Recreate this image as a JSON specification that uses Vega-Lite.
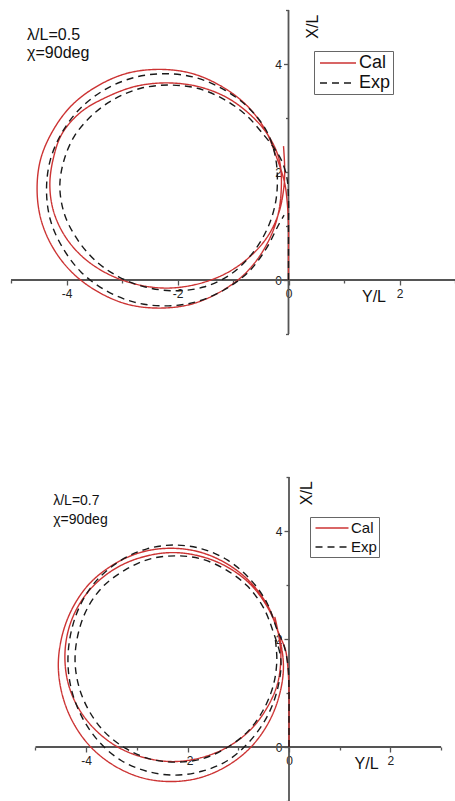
{
  "$schema": "https://vega.github.io/schema/vega-lite/v6.json",
  "background": "white",
  "padding": {"left": 10, "top": 9, "right": 0, "bottom": 0},
  "spacing": 141,
  "config": {
    "view": {"stroke": null},
    "font": "Liberation Sans",
    "legend": {"title": null, "symbolStrokeWidth": 1.5, "strokeColor": "#666", "fillColor": "white", "padding": 2, "labelColor": "#111", "labelFont": "Liberation Sans"}
  },
  "datasets": {
    "frame": [
      {"p": "A", "a": "x", "o": 1, "h": -5, "v": 0}, {"p": "A", "a": "x", "o": 2, "h": 3, "v": 0},
      {"p": "A", "a": "y", "o": 1, "h": 0, "v": -1}, {"p": "A", "a": "y", "o": 2, "h": 0, "v": 5},
      {"p": "B", "a": "x", "o": 1, "h": -5, "v": 0}, {"p": "B", "a": "x", "o": 2, "h": 3, "v": 0},
      {"p": "B", "a": "y", "o": 1, "h": 0, "v": -1}, {"p": "B", "a": "y", "o": 2, "h": 0, "v": 5}
    ],
    "notes": [
      {"p": "A", "k": "note", "h": -4.71, "v": 4.54, "t": "λ/L=0.5"},
      {"p": "A", "k": "note", "h": -4.71, "v": 4.2, "t": "χ=90deg"},
      {"p": "A", "k": "xt", "h": 1.54, "v": -0.31, "t": "Y/L"},
      {"p": "A", "k": "yt", "h": 0.45, "v": 4.69, "t": "X/L"},
      {"p": "B", "k": "note", "h": -4.65, "v": 4.56, "t": "λ/L=0.7"},
      {"p": "B", "k": "note", "h": -4.65, "v": 4.2, "t": "χ=90deg"},
      {"p": "B", "k": "xt", "h": 1.53, "v": -0.31, "t": "Y/L"},
      {"p": "B", "k": "yt", "h": 0.36, "v": 4.7, "t": "X/L"}
    ],
    "traj": [
      {"p":"A","s":"Cal","o":1,"h":0,"v":0},{"p":"A","s":"Cal","o":2,"h":0,"v":0.5},{"p":"A","s":"Cal","o":3,"h":0,"v":1.0},{"p":"A","s":"Cal","o":4,"h":-0.02,"v":1.4},
      {"p":"A","s":"Cal","o":5,"h":-0.07,"v":1.8},{"p":"A","s":"Cal","o":6,"h":-0.21,"v":2.26},{"p":"A","s":"Cal","o":7,"h":-0.43,"v":2.8},{"p":"A","s":"Cal","o":8,"h":-0.77,"v":3.25},
      {"p":"A","s":"Cal","o":9,"h":-1.23,"v":3.6},{"p":"A","s":"Cal","o":10,"h":-1.76,"v":3.83},{"p":"A","s":"Cal","o":11,"h":-2.33,"v":3.9},{"p":"A","s":"Cal","o":12,"h":-2.9,"v":3.83},
      {"p":"A","s":"Cal","o":13,"h":-3.43,"v":3.6},{"p":"A","s":"Cal","o":14,"h":-3.89,"v":3.25},{"p":"A","s":"Cal","o":15,"h":-4.22,"v":2.81},{"p":"A","s":"Cal","o":16,"h":-4.46,"v":2.26},
      {"p":"A","s":"Cal","o":17,"h":-4.53,"v":1.69},{"p":"A","s":"Cal","o":18,"h":-4.46,"v":1.12},{"p":"A","s":"Cal","o":19,"h":-4.24,"v":0.59},{"p":"A","s":"Cal","o":20,"h":-3.89,"v":0.13},
      {"p":"A","s":"Cal","o":21,"h":-3.43,"v":-0.22},{"p":"A","s":"Cal","o":22,"h":-2.9,"v":-0.45},{"p":"A","s":"Cal","o":23,"h":-2.33,"v":-0.52},{"p":"A","s":"Cal","o":24,"h":-1.76,"v":-0.45},
      {"p":"A","s":"Cal","o":25,"h":-1.23,"v":-0.22},{"p":"A","s":"Cal","o":26,"h":-0.77,"v":0.13},{"p":"A","s":"Cal","o":27,"h":-0.43,"v":0.59},{"p":"A","s":"Cal","o":28,"h":-0.21,"v":1.12},
      {"p":"A","s":"Cal","o":29,"h":-0.13,"v":1.69},{"p":"A","s":"Cal","o":30,"h":-0.17,"v":2.24},{"p":"A","s":"Cal","o":31,"h":-0.38,"v":2.7},{"p":"A","s":"Cal","o":32,"h":-0.72,"v":3.09},
      {"p":"A","s":"Cal","o":33,"h":-1.15,"v":3.4},{"p":"A","s":"Cal","o":34,"h":-1.66,"v":3.59},{"p":"A","s":"Cal","o":35,"h":-2.2,"v":3.65},{"p":"A","s":"Cal","o":36,"h":-2.74,"v":3.59},
      {"p":"A","s":"Cal","o":37,"h":-3.25,"v":3.4},{"p":"A","s":"Cal","o":38,"h":-3.74,"v":3.11},{"p":"A","s":"Cal","o":39,"h":-4.08,"v":2.71},{"p":"A","s":"Cal","o":40,"h":-4.24,"v":2.24},
      {"p":"A","s":"Cal","o":41,"h":-4.3,"v":1.75},{"p":"A","s":"Cal","o":42,"h":-4.23,"v":1.26},{"p":"A","s":"Cal","o":43,"h":-4.02,"v":0.8},{"p":"A","s":"Cal","o":44,"h":-3.69,"v":0.41},
      {"p":"A","s":"Cal","o":45,"h":-3.25,"v":0.11},{"p":"A","s":"Cal","o":46,"h":-2.74,"v":-0.08},{"p":"A","s":"Cal","o":47,"h":-2.2,"v":-0.15},{"p":"A","s":"Cal","o":48,"h":-1.66,"v":-0.08},
      {"p":"A","s":"Cal","o":49,"h":-1.15,"v":0.11},{"p":"A","s":"Cal","o":50,"h":-0.72,"v":0.41},{"p":"A","s":"Cal","o":51,"h":-0.38,"v":0.8},{"p":"A","s":"Cal","o":52,"h":-0.17,"v":1.26},
      {"p":"A","s":"Cal","o":53,"h":-0.08,"v":1.75},{"p":"A","s":"Cal","o":54,"h":-0.07,"v":2.1},{"p":"A","s":"Cal","o":55,"h":-0.09,"v":2.48},

      {"p":"A","s":"Exp","o":1,"h":0,"v":0},{"p":"A","s":"Exp","o":2,"h":0,"v":0.5},{"p":"A","s":"Exp","o":3,"h":0,"v":1.0},{"p":"A","s":"Exp","o":4,"h":0,"v":1.5},
      {"p":"A","s":"Exp","o":5,"h":-0.03,"v":1.9},{"p":"A","s":"Exp","o":6,"h":-0.12,"v":2.2},{"p":"A","s":"Exp","o":7,"h":-0.25,"v":2.43},{"p":"A","s":"Exp","o":8,"h":-0.44,"v":2.68},
      {"p":"A","s":"Exp","o":9,"h":-0.76,"v":3.05},{"p":"A","s":"Exp","o":10,"h":-1.17,"v":3.35},{"p":"A","s":"Exp","o":11,"h":-1.64,"v":3.55},{"p":"A","s":"Exp","o":12,"h":-2.15,"v":3.61},
      {"p":"A","s":"Exp","o":13,"h":-2.66,"v":3.55},{"p":"A","s":"Exp","o":14,"h":-3.14,"v":3.35},{"p":"A","s":"Exp","o":15,"h":-3.54,"v":3.05},{"p":"A","s":"Exp","o":16,"h":-3.86,"v":2.66},
      {"p":"A","s":"Exp","o":17,"h":-4.05,"v":2.2},{"p":"A","s":"Exp","o":18,"h":-4.12,"v":1.72},{"p":"A","s":"Exp","o":19,"h":-4.03,"v":1.2},{"p":"A","s":"Exp","o":20,"h":-3.79,"v":0.73},
      {"p":"A","s":"Exp","o":21,"h":-3.46,"v":0.34},{"p":"A","s":"Exp","o":22,"h":-3.06,"v":0.06},{"p":"A","s":"Exp","o":23,"h":-2.58,"v":-0.13},{"p":"A","s":"Exp","o":24,"h":-2.05,"v":-0.2},
      {"p":"A","s":"Exp","o":25,"h":-1.53,"v":-0.13},{"p":"A","s":"Exp","o":26,"h":-1.05,"v":0.1},{"p":"A","s":"Exp","o":27,"h":-0.67,"v":0.47},{"p":"A","s":"Exp","o":28,"h":-0.39,"v":0.93},
      {"p":"A","s":"Exp","o":29,"h":-0.24,"v":1.4},{"p":"A","s":"Exp","o":30,"h":-0.2,"v":1.83},{"p":"A","s":"Exp","o":31,"h":-0.24,"v":2.3},{"p":"A","s":"Exp","o":32,"h":-0.39,"v":2.75},
      {"p":"A","s":"Exp","o":33,"h":-0.72,"v":3.19},{"p":"A","s":"Exp","o":34,"h":-1.17,"v":3.53},{"p":"A","s":"Exp","o":35,"h":-1.68,"v":3.75},{"p":"A","s":"Exp","o":36,"h":-2.23,"v":3.82},
      {"p":"A","s":"Exp","o":37,"h":-2.78,"v":3.75},{"p":"A","s":"Exp","o":38,"h":-3.3,"v":3.53},{"p":"A","s":"Exp","o":39,"h":-3.74,"v":3.19},{"p":"A","s":"Exp","o":40,"h":-4.07,"v":2.75},
      {"p":"A","s":"Exp","o":41,"h":-4.29,"v":2.23},{"p":"A","s":"Exp","o":42,"h":-4.36,"v":1.67},{"p":"A","s":"Exp","o":43,"h":-4.29,"v":1.11},{"p":"A","s":"Exp","o":44,"h":-4.07,"v":0.6},
      {"p":"A","s":"Exp","o":45,"h":-3.74,"v":0.15},{"p":"A","s":"Exp","o":46,"h":-3.3,"v":-0.19},{"p":"A","s":"Exp","o":47,"h":-2.78,"v":-0.41},{"p":"A","s":"Exp","o":48,"h":-2.23,"v":-0.48},
      {"p":"A","s":"Exp","o":49,"h":-1.68,"v":-0.41},{"p":"A","s":"Exp","o":50,"h":-1.17,"v":-0.19},{"p":"A","s":"Exp","o":51,"h":-0.72,"v":0.15},{"p":"A","s":"Exp","o":52,"h":-0.39,"v":0.6},
      {"p":"A","s":"Exp","o":53,"h":-0.19,"v":1.0},{"p":"A","s":"Exp","o":54,"h":-0.08,"v":1.2},

      {"p":"B","s":"Cal","o":1,"h":0,"v":0},{"p":"B","s":"Cal","o":2,"h":0,"v":0.5},{"p":"B","s":"Cal","o":3,"h":0,"v":1.0},{"p":"B","s":"Cal","o":4,"h":-0.02,"v":1.45},
      {"p":"B","s":"Cal","o":5,"h":-0.07,"v":1.8},{"p":"B","s":"Cal","o":6,"h":-0.19,"v":2.08},{"p":"B","s":"Cal","o":7,"h":-0.41,"v":2.6},{"p":"B","s":"Cal","o":8,"h":-0.76,"v":3.05},
      {"p":"B","s":"Cal","o":9,"h":-1.22,"v":3.39},{"p":"B","s":"Cal","o":10,"h":-1.76,"v":3.61},{"p":"B","s":"Cal","o":11,"h":-2.33,"v":3.68},{"p":"B","s":"Cal","o":12,"h":-2.9,"v":3.61},
      {"p":"B","s":"Cal","o":13,"h":-3.44,"v":3.39},{"p":"B","s":"Cal","o":14,"h":-3.92,"v":3.04},{"p":"B","s":"Cal","o":15,"h":-4.26,"v":2.59},{"p":"B","s":"Cal","o":16,"h":-4.47,"v":2.08},
      {"p":"B","s":"Cal","o":17,"h":-4.55,"v":1.52},{"p":"B","s":"Cal","o":18,"h":-4.47,"v":0.96},{"p":"B","s":"Cal","o":19,"h":-4.25,"v":0.44},{"p":"B","s":"Cal","o":20,"h":-3.9,"v":-0.01},
      {"p":"B","s":"Cal","o":21,"h":-3.44,"v":-0.35},{"p":"B","s":"Cal","o":22,"h":-2.9,"v":-0.57},{"p":"B","s":"Cal","o":23,"h":-2.33,"v":-0.64},{"p":"B","s":"Cal","o":24,"h":-1.76,"v":-0.57},
      {"p":"B","s":"Cal","o":25,"h":-1.22,"v":-0.35},{"p":"B","s":"Cal","o":26,"h":-0.76,"v":-0.01},{"p":"B","s":"Cal","o":27,"h":-0.41,"v":0.44},{"p":"B","s":"Cal","o":28,"h":-0.19,"v":0.96},
      {"p":"B","s":"Cal","o":29,"h":-0.11,"v":1.52},{"p":"B","s":"Cal","o":30,"h":-0.23,"v":2.17},{"p":"B","s":"Cal","o":31,"h":-0.45,"v":2.63},{"p":"B","s":"Cal","o":32,"h":-0.78,"v":3.03},
      {"p":"B","s":"Cal","o":33,"h":-1.23,"v":3.34},{"p":"B","s":"Cal","o":34,"h":-1.74,"v":3.53},{"p":"B","s":"Cal","o":35,"h":-2.29,"v":3.6},{"p":"B","s":"Cal","o":36,"h":-2.84,"v":3.53},
      {"p":"B","s":"Cal","o":37,"h":-3.36,"v":3.34},{"p":"B","s":"Cal","o":38,"h":-3.82,"v":3.02},{"p":"B","s":"Cal","o":39,"h":-4.15,"v":2.62},{"p":"B","s":"Cal","o":40,"h":-4.35,"v":2.17},
      {"p":"B","s":"Cal","o":41,"h":-4.42,"v":1.67},{"p":"B","s":"Cal","o":42,"h":-4.35,"v":1.16},{"p":"B","s":"Cal","o":43,"h":-4.14,"v":0.7},{"p":"B","s":"Cal","o":44,"h":-3.8,"v":0.3},
      {"p":"B","s":"Cal","o":45,"h":-3.36,"v":-0.01},{"p":"B","s":"Cal","o":46,"h":-2.84,"v":-0.2},{"p":"B","s":"Cal","o":47,"h":-2.29,"v":-0.27},{"p":"B","s":"Cal","o":48,"h":-1.74,"v":-0.2},
      {"p":"B","s":"Cal","o":49,"h":-1.23,"v":-0.01},{"p":"B","s":"Cal","o":50,"h":-0.78,"v":0.3},{"p":"B","s":"Cal","o":51,"h":-0.45,"v":0.7},{"p":"B","s":"Cal","o":52,"h":-0.23,"v":1.16},
      {"p":"B","s":"Cal","o":53,"h":-0.16,"v":1.67},{"p":"B","s":"Cal","o":54,"h":-0.2,"v":2.05},{"p":"B","s":"Cal","o":55,"h":-0.28,"v":2.41},

      {"p":"B","s":"Exp","o":1,"h":0,"v":0},{"p":"B","s":"Exp","o":2,"h":0,"v":0.5},{"p":"B","s":"Exp","o":3,"h":0,"v":1.0},{"p":"B","s":"Exp","o":4,"h":-0.02,"v":1.5},
      {"p":"B","s":"Exp","o":5,"h":-0.1,"v":1.88},{"p":"B","s":"Exp","o":6,"h":-0.23,"v":2.16},{"p":"B","s":"Exp","o":7,"h":-0.44,"v":2.68},{"p":"B","s":"Exp","o":8,"h":-0.78,"v":3.12},
      {"p":"B","s":"Exp","o":9,"h":-1.21,"v":3.46},{"p":"B","s":"Exp","o":10,"h":-1.72,"v":3.67},{"p":"B","s":"Exp","o":11,"h":-2.26,"v":3.74},{"p":"B","s":"Exp","o":12,"h":-2.8,"v":3.67},
      {"p":"B","s":"Exp","o":13,"h":-3.31,"v":3.46},{"p":"B","s":"Exp","o":14,"h":-3.78,"v":3.1},{"p":"B","s":"Exp","o":15,"h":-4.1,"v":2.66},{"p":"B","s":"Exp","o":16,"h":-4.29,"v":2.16},
      {"p":"B","s":"Exp","o":17,"h":-4.36,"v":1.61},{"p":"B","s":"Exp","o":18,"h":-4.29,"v":1.06},{"p":"B","s":"Exp","o":19,"h":-4.08,"v":0.55},{"p":"B","s":"Exp","o":20,"h":-3.75,"v":0.1},
      {"p":"B","s":"Exp","o":21,"h":-3.31,"v":-0.25},{"p":"B","s":"Exp","o":22,"h":-2.8,"v":-0.45},{"p":"B","s":"Exp","o":23,"h":-2.26,"v":-0.52},{"p":"B","s":"Exp","o":24,"h":-1.72,"v":-0.45},
      {"p":"B","s":"Exp","o":25,"h":-1.21,"v":-0.25},{"p":"B","s":"Exp","o":26,"h":-0.78,"v":0.1},{"p":"B","s":"Exp","o":27,"h":-0.44,"v":0.55},{"p":"B","s":"Exp","o":28,"h":-0.23,"v":1.06},
      {"p":"B","s":"Exp","o":29,"h":-0.16,"v":1.61},{"p":"B","s":"Exp","o":30,"h":-0.31,"v":2.13},{"p":"B","s":"Exp","o":31,"h":-0.51,"v":2.59},{"p":"B","s":"Exp","o":32,"h":-0.82,"v":2.98},
      {"p":"B","s":"Exp","o":33,"h":-1.24,"v":3.28},{"p":"B","s":"Exp","o":34,"h":-1.72,"v":3.48},{"p":"B","s":"Exp","o":35,"h":-2.23,"v":3.54},{"p":"B","s":"Exp","o":36,"h":-2.75,"v":3.48},
      {"p":"B","s":"Exp","o":37,"h":-3.23,"v":3.28},{"p":"B","s":"Exp","o":38,"h":-3.66,"v":2.98},{"p":"B","s":"Exp","o":39,"h":-3.97,"v":2.58},{"p":"B","s":"Exp","o":40,"h":-4.15,"v":2.13},
      {"p":"B","s":"Exp","o":41,"h":-4.22,"v":1.63},{"p":"B","s":"Exp","o":42,"h":-4.15,"v":1.14},{"p":"B","s":"Exp","o":43,"h":-3.95,"v":0.68},{"p":"B","s":"Exp","o":44,"h":-3.64,"v":0.28},
      {"p":"B","s":"Exp","o":45,"h":-3.23,"v":-0.02},{"p":"B","s":"Exp","o":46,"h":-2.75,"v":-0.22},{"p":"B","s":"Exp","o":47,"h":-2.23,"v":-0.28},{"p":"B","s":"Exp","o":48,"h":-1.72,"v":-0.22},
      {"p":"B","s":"Exp","o":49,"h":-1.24,"v":-0.02},{"p":"B","s":"Exp","o":50,"h":-0.82,"v":0.28},{"p":"B","s":"Exp","o":51,"h":-0.51,"v":0.68},{"p":"B","s":"Exp","o":52,"h":-0.31,"v":1.14},
      {"p":"B","s":"Exp","o":53,"h":-0.24,"v":1.6},{"p":"B","s":"Exp","o":54,"h":-0.27,"v":2.0}
    ]
  },
  "vconcat": [
    {
      "width": 444,
      "height": 324,
      "encoding": {
        "x": {"field": "h", "type": "quantitative", "scale": {"domain": [-5, 3], "nice": false, "zero": false},
          "axis": {"title": null, "values": [-5, -4, -3, -2, -1, 0, 1, 2, 3], "labelExpr": "datum.value % 2 === 0 ? '' + datum.value : ''",
            "labelFontSize": {"condition": {"test": "datum.value % 2 !== 0", "value": 0}, "value": 12},
            "tickSize": {"condition": {"test": "datum.value % 2 !== 0", "value": 3}, "value": 5},
            "offset": -54, "domain": false, "grid": false, "tickColor": "#555", "tickWidth": 1.3, "labelColor": "#222", "labelPadding": 3, "labelOverlap": false, "labelFlush": false, "labelBound": false}},
        "y": {"field": "v", "type": "quantitative", "scale": {"domain": [-1, 5], "nice": false, "zero": false},
          "axis": {"title": null, "values": [-1, 0, 1, 2, 3, 4, 5], "labelExpr": "datum.value % 2 === 0 ? '' + datum.value : ''",
            "labelFontSize": {"condition": {"test": "datum.value % 2 !== 0", "value": 0}, "value": 12},
            "tickSize": {"condition": {"test": "datum.value % 2 !== 0", "value": 3}, "value": 5},
            "offset": -277.5, "domain": false, "grid": false, "tickColor": "#555", "tickWidth": 1.3, "labelColor": "#222", "labelPadding": 2, "labelOverlap": false, "labelFlush": false, "labelBound": false}}
      },
      "layer": [
        {"data": {"name": "frame"}, "transform": [{"filter": "datum.p === 'A'"}],
          "mark": {"type": "line", "color": "#555", "strokeWidth": 1.8, "strokeJoin": "round", "strokeCap": "butt"},
          "encoding": {"detail": {"field": "a"}, "order": {"field": "o", "type": "quantitative"}}},
        {"data": {"name": "traj"}, "transform": [{"filter": "datum.p === 'A'"}],
          "mark": {"type": "line", "interpolate": "catmull-rom", "strokeWidth": 1.4},
          "encoding": {
            "color": {"field": "s", "type": "nominal", "scale": {"domain": ["Cal", "Exp"], "range": ["#cc3333", "#1a1a1a"]},
              "legend": {"orient": "none", "legendX": 303, "legendY": 41, "symbolType": "M-2,0H2", "symbolSize": 324, "symbolOffset": 12, "labelOffset": 11, "rowPadding": 1, "labelFontSize": 18}},
            "strokeDash": {"field": "s", "type": "nominal", "scale": {"domain": ["Cal", "Exp"], "range": [[1, 0], [7, 5]]},
              "legend": {"orient": "none", "legendX": 303, "legendY": 41, "symbolType": "M-2,0H2", "symbolSize": 324, "symbolOffset": 12, "labelOffset": 11, "rowPadding": 1, "labelFontSize": 18}},
            "order": {"field": "o", "type": "quantitative"}
          }},
        {"data": {"name": "notes"}, "transform": [{"filter": "datum.p === 'A' && datum.k === 'note'"}],
          "mark": {"type": "text", "align": "left", "baseline": "middle", "fontSize": 16, "color": "#111"},
          "encoding": {"text": {"field": "t"}}},
        {"data": {"name": "notes"}, "transform": [{"filter": "datum.p === 'A' && datum.k === 'xt'"}],
          "mark": {"type": "text", "align": "center", "baseline": "middle", "fontSize": 16, "color": "#111"},
          "encoding": {"text": {"field": "t"}}},
        {"data": {"name": "notes"}, "transform": [{"filter": "datum.p === 'A' && datum.k === 'yt'"}],
          "mark": {"type": "text", "align": "center", "baseline": "middle", "angle": 270, "fontSize": 16, "color": "#111"},
          "encoding": {"text": {"field": "t"}}}
      ]
    },
    {
      "width": 444,
      "height": 324,
      "encoding": {
        "x": {"field": "h", "type": "quantitative", "scale": {"domain": [-5.483, 3.274], "nice": false, "zero": false},
          "axis": {"title": null, "values": [-5, -4, -3, -2, -1, 0, 1, 2, 3], "labelExpr": "datum.value % 2 === 0 ? '' + datum.value : ''",
            "labelFontSize": {"condition": {"test": "datum.value % 2 !== 0", "value": 0}, "value": 12},
            "tickSize": {"condition": {"test": "datum.value % 2 !== 0", "value": 3}, "value": 5},
            "offset": -54, "domain": false, "grid": false, "tickColor": "#555", "tickWidth": 1.3, "labelColor": "#222", "labelPadding": 3, "labelOverlap": false, "labelFlush": false, "labelBound": false}},
        "y": {"field": "v", "type": "quantitative", "scale": {"domain": [-1, 5], "nice": false, "zero": false},
          "axis": {"title": null, "values": [-1, 0, 1, 2, 3, 4, 5], "labelExpr": "datum.value % 2 === 0 ? '' + datum.value : ''",
            "labelFontSize": {"condition": {"test": "datum.value % 2 !== 0", "value": 0}, "value": 12},
            "tickSize": {"condition": {"test": "datum.value % 2 !== 0", "value": 3}, "value": 5},
            "offset": -278, "domain": false, "grid": false, "tickColor": "#555", "tickWidth": 1.3, "labelColor": "#222", "labelPadding": 2, "labelOverlap": false, "labelFlush": false, "labelBound": false}}
      },
      "layer": [
        {"data": {"name": "frame"}, "transform": [{"filter": "datum.p === 'B'"}],
          "mark": {"type": "line", "color": "#555", "strokeWidth": 1.8, "strokeJoin": "round", "strokeCap": "butt"},
          "encoding": {"detail": {"field": "a"}, "order": {"field": "o", "type": "quantitative"}}},
        {"data": {"name": "traj"}, "transform": [{"filter": "datum.p === 'B'"}],
          "mark": {"type": "line", "interpolate": "catmull-rom", "strokeWidth": 1.4},
          "encoding": {
            "color": {"field": "s", "type": "nominal", "scale": {"domain": ["Cal", "Exp"], "range": ["#cc3333", "#1a1a1a"]},
              "legend": {"orient": "none", "legendX": 299, "legendY": 40, "symbolType": "M-2,0H2", "symbolSize": 272, "symbolOffset": 11, "labelOffset": 10, "rowPadding": 2, "labelFontSize": 15}},
            "strokeDash": {"field": "s", "type": "nominal", "scale": {"domain": ["Cal", "Exp"], "range": [[1, 0], [7, 5]]},
              "legend": {"orient": "none", "legendX": 299, "legendY": 40, "symbolType": "M-2,0H2", "symbolSize": 272, "symbolOffset": 11, "labelOffset": 10, "rowPadding": 2, "labelFontSize": 15}},
            "order": {"field": "o", "type": "quantitative"}
          }},
        {"data": {"name": "notes"}, "transform": [{"filter": "datum.p === 'B' && datum.k === 'note'"}],
          "mark": {"type": "text", "align": "left", "baseline": "middle", "fontSize": 14, "color": "#111"},
          "encoding": {"text": {"field": "t"}}},
        {"data": {"name": "notes"}, "transform": [{"filter": "datum.p === 'B' && datum.k === 'xt'"}],
          "mark": {"type": "text", "align": "center", "baseline": "middle", "fontSize": 16, "color": "#111"},
          "encoding": {"text": {"field": "t"}}},
        {"data": {"name": "notes"}, "transform": [{"filter": "datum.p === 'B' && datum.k === 'yt'"}],
          "mark": {"type": "text", "align": "center", "baseline": "middle", "angle": 270, "fontSize": 16, "color": "#111"},
          "encoding": {"text": {"field": "t"}}}
      ]
    }
  ],
  "resolve": {
    "scale": {"x": "independent", "y": "independent", "color": "independent", "strokeDash": "independent"},
    "axis": {"x": "independent", "y": "independent"},
    "legend": {"color": "independent", "strokeDash": "independent"}
  }
}
